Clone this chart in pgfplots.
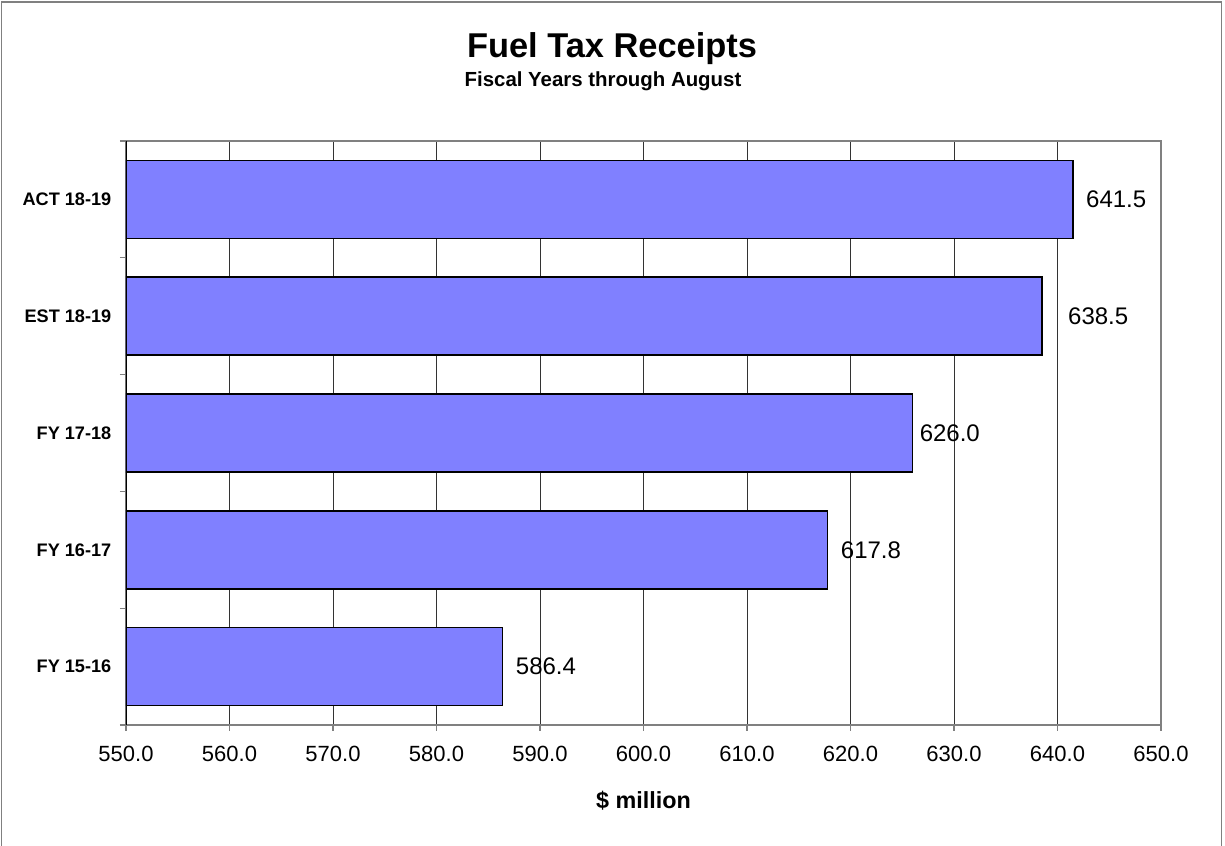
\documentclass[border=0pt]{standalone}
\usepackage{fontspec}
\setmainfont{Liberation Sans}
\usepackage{pgfplots}
\usepackage{pgfplotstable}
\pgfplotsset{compat=1.18}
\definecolor{barblue}{HTML}{8080FF}
\definecolor{axgray}{HTML}{808080}
\pgfplotstableread{
val pos shift
586.4 0 6
617.8 1 6
626.0 2 1.5
638.5 3 15.75
641.5 4 6
}\fueldata
\begin{document}
\begin{tikzpicture}
\useasboundingbox (0,0) rectangle (918.75pt,634.5pt);
\draw[axgray, line width=1.1pt] (1.1pt,-20pt) -- (1.1pt,633pt) -- (916.1pt,633pt) -- (916.1pt,-20pt);
\node[font=\fontsize{25.8}{30}\selectfont\bfseries, anchor=base] at (459pt,591pt) {Fuel Tax Receipts};
\node[font=\fontsize{15.3}{18}\selectfont\bfseries, anchor=base] at (452.25pt,569.25pt) {Fiscal Years through August};
\begin{axis}[
  at={(94.5pt,90.75pt)}, anchor=south west,
  scale only axis, width=776.25pt, height=438pt,
  xbar, bar width=58.5pt,
  xmin=550, xmax=650, ymin=-0.5, ymax=4.5,
  xtick={550,560,...,650},
  ytick={0,1,2,3,4},
  yticklabels={FY 15-16, FY 16-17, FY 17-18, EST 18-19, ACT 18-19},
  minor ytick={-0.5,0.5,...,4.5},
  tick align=outside,
  xtick pos=left, ytick pos=left,
  major tick length=4.5pt, minor tick length=4.5pt,
  major y tick style={draw=none},
  minor y tick style={axgray, line width=1pt},
  major x tick style={axgray, line width=1pt},
  xmajorgrids, grid style={black!80, line width=0.75pt},
  axis line style={axgray, line width=1.1pt},
  x tick label style={font=\fontsize{16.5}{18}\selectfont, yshift=-7.5pt},
  y tick label style={font=\fontsize{13.6}{16}\selectfont\bfseries, xshift=-3pt},
  /pgf/number format/fixed, /pgf/number format/fixed zerofill,
  /pgf/number format/precision=1, /pgf/number format/assume math mode=true,
  point meta=x,
  nodes near coords, nodes near coords align={horizontal},
  visualization depends on={\thisrow{shift} \as \lblshift},
  nodes near coords style={font=\fontsize{18}{20}\selectfont, xshift=\lblshift pt},
  xlabel={\$ million},
  xlabel style={font=\fontsize{17.5}{20}\selectfont\bfseries, at={(axis description cs:0.5,0)}, anchor=base, yshift=-63pt},
]
\addplot[fill=barblue, draw=black, line width=1.1pt] table[x=val, y=pos] {\fueldata};
\draw[black, line width=1.1pt] (rel axis cs:0,0) -- (rel axis cs:0,1);
\end{axis}
\end{tikzpicture}
\end{document}
